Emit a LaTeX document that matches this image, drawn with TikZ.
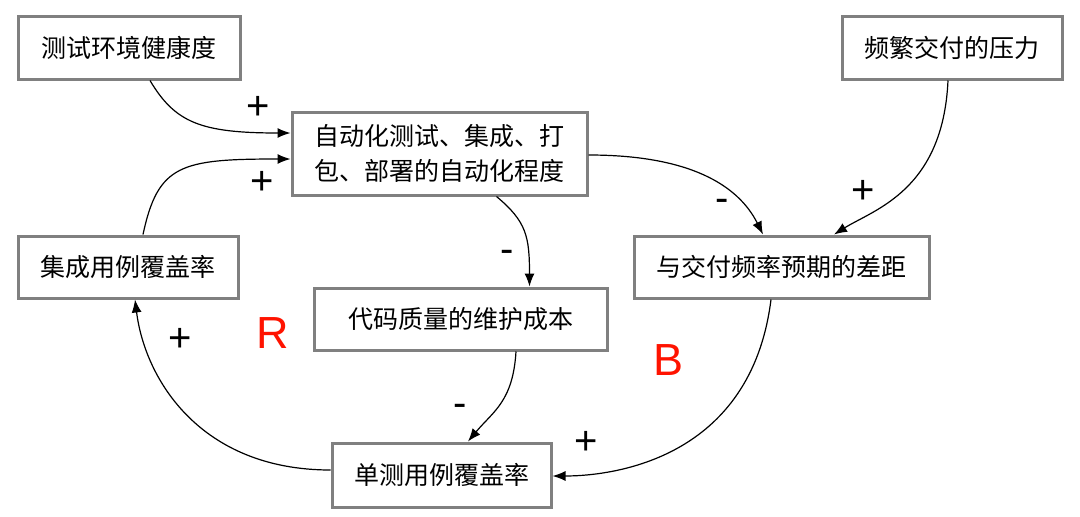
\documentclass[tikz,border=0pt]{standalone}
\usepackage{fontspec}
\setmainfont{Noto Sans CJK SC}
\newfontfamily\latinfont{Liberation Sans}
\usetikzlibrary{arrows.meta}
\begin{document}
\begin{tikzpicture}[x=1pt,y=-1pt,
  box/.style={draw=black!50, line width=3pt, fill=white, inner sep=0pt, align=center, font=\fontsize{25}{35}\selectfont},
  conn/.style={line width=1.2pt, -{Latex[length=13pt,width=10pt]}},
  sgn/.style={font=\latinfont\fontsize{40}{40}\selectfont},
  loopl/.style={font=\latinfont\fontsize{45}{45}\selectfont, text=red!85!orange}]
\useasboundingbox (0,0) rectangle (1080,517);
\node[box, minimum width=222pt, minimum height=63pt] (A) at (129,47.5) {测试环境健康度};
\node[box, minimum width=220pt, minimum height=63pt] (B) at (952,47.5) {频繁交付的压力};
\node[box, minimum width=295pt, minimum height=83pt] (C) at (439.5,153.5) {自动化测试、集成、打\\包、部署的自动化程度};
\node[box, minimum width=220pt, minimum height=62pt] (D) at (128,267) {集成用例覆盖率};
\node[box, minimum width=295pt, minimum height=62pt] (E) at (781.5,267) {与交付频率预期的差距};
\node[box, minimum width=293pt, minimum height=62pt] (F) at (460.5,319) {代码质量的维护成本};
\node[box, minimum width=219pt, minimum height=64pt] (G) at (441.5,475) {单测用例覆盖率};

\draw[conn] ([xshift=21pt]A.south) .. controls +(25,42) and +(-90,0) .. ([yshift=20.5pt]C.west);
\draw[conn] ([xshift=15pt]D.north) .. controls +(15,-70) and +(-110,0) .. ([yshift=-5.5pt]C.west);
\draw[conn] ([xshift=57pt]C.south) .. controls +(30,25) and +(0,-50) .. ([xshift=69pt]F.north);
\draw[conn] ([yshift=-1.5pt]C.east) .. controls +(100,0) and +(-25,-50) .. ([xshift=-18.5pt]E.north);
\draw[conn] ([xshift=-4pt]B.south) .. controls +(-5,110) and +(40,-25) .. ([xshift=52.5pt]E.north);
\draw[conn] ([xshift=-10.5pt]E.south) .. controls +(-20,160) and +(60,0) .. ([yshift=-1pt]G.east);
\draw[conn] ([xshift=55.5pt]F.south) .. controls +(-3,50) and +(25,-30) .. ([xshift=26.5pt]G.north);
\draw[conn] ([yshift=5pt]G.west) .. controls +(-130,0) and +(10,80) .. ([xshift=7pt]D.south);

\node[sgn] (s1) at (258,108) {+};
\node[sgn] (s2) at (262,183) {+};
\node[sgn] (s3) at (507,256) {-};
\node[sgn] (s4) at (722,205) {-};
\node[sgn] (s5) at (863,192) {+};
\node[sgn] (s6) at (586,443) {+};
\node[sgn] (s7) at (460,410) {-};
\node[sgn] (s8) at (180,340) {+};
\node[loopl] (R) at (273,333) {R};
\node[loopl] (Bl) at (669,360) {B};
\end{tikzpicture}
\end{document}
